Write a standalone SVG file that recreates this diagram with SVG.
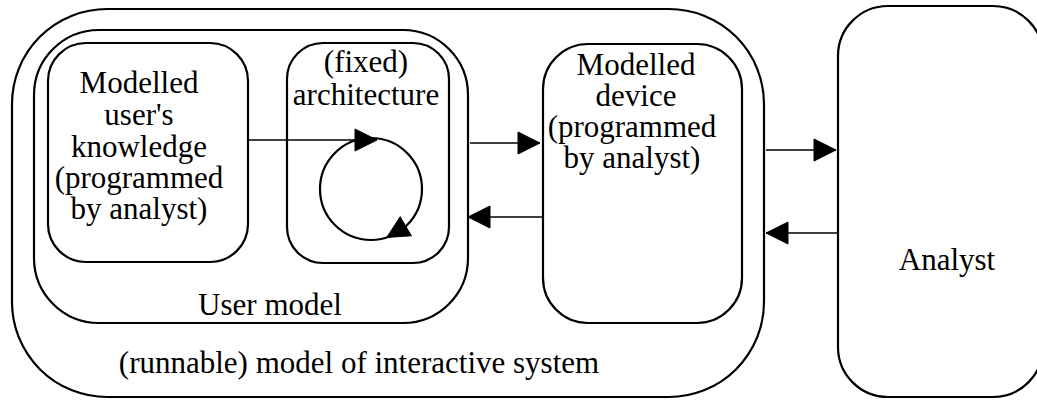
<svg xmlns="http://www.w3.org/2000/svg" width="1037" height="400" viewBox="0 0 1037 400">
  <style>
    .box { fill: none; stroke: #000; stroke-width: 2.2; }
    .lbl { font-family: 'Liberation Serif', serif; font-size: 31px; fill: #000; text-anchor: middle; }
    .flow { fill: none; stroke: #000; stroke-width: 1.4; marker-end: url(#head); }
    .loop { fill: none; stroke: #000; stroke-width: 2.2; }
  </style>
  <defs>
    <marker id="head" markerUnits="userSpaceOnUse" markerWidth="24" markerHeight="24" viewBox="0 0 24 24" refX="23" refY="12" orient="auto">
      <path d="M1,1 L23,12 L1,23 Z" fill="#000" stroke="#000" stroke-width="1" stroke-linejoin="miter"/>
    </marker>
  </defs>
  <rect width="1037" height="400" fill="#fff"/>

  <g id="system">
    <rect class="box" x="12" y="9" width="752" height="388" rx="95" ry="95"/>
    <text class="lbl" x="359" y="373">(runnable) model of interactive system</text>
  </g>

  <g id="user-model">
    <rect class="box" x="34" y="30" width="434" height="293" rx="65" ry="65"/>
    <text class="lbl" x="270" y="315">User model</text>
  </g>

  <g id="knowledge">
    <rect class="box" x="48" y="43" width="200" height="219" rx="38" ry="38"/>
    <text class="lbl" x="139" y="93">Modelled</text>
    <text class="lbl" x="139" y="125">user's</text>
    <text class="lbl" x="139" y="157">knowledge</text>
    <text class="lbl" x="139" y="188">(programmed</text>
    <text class="lbl" x="139" y="219">by analyst)</text>
  </g>

  <g id="architecture">
    <rect class="box" x="287" y="43" width="162" height="220" rx="36" ry="36"/>
    <text class="lbl" x="366" y="72">(fixed)</text>
    <text class="lbl" x="366" y="105">architecture</text>
    <circle class="loop" cx="371" cy="189" r="51"/>
  </g>

  <g id="device">
    <rect class="box" x="543" y="44" width="199" height="279" rx="45" ry="45"/>
    <text class="lbl" x="636" y="75">Modelled</text>
    <text class="lbl" x="636" y="106">device</text>
    <text class="lbl" x="632" y="137">(programmed</text>
    <text class="lbl" x="632" y="168">by analyst)</text>
  </g>

  <g id="analyst">
    <rect class="box" x="838" y="6" width="205" height="391" rx="50" ry="50"/>
    <text class="lbl" x="947" y="270">Analyst</text>
  </g>

  <g id="connectors">
    <!-- knowledge into the architecture cycle -->
    <path class="flow" d="M248,140 L377,140"/>
    <!-- cycle return head on the loop -->
    <path class="flow" d="M405.8,226.3 L386.8,237.5"/>
    <!-- user model <-> device -->
    <path class="flow" d="M470,143 L540,143"/>
    <path class="flow" d="M542,217 L468,217"/>
    <!-- system <-> analyst -->
    <path class="flow" d="M766,150 L836,150"/>
    <path class="flow" d="M838,233 L766,233"/>
  </g>
</svg>
